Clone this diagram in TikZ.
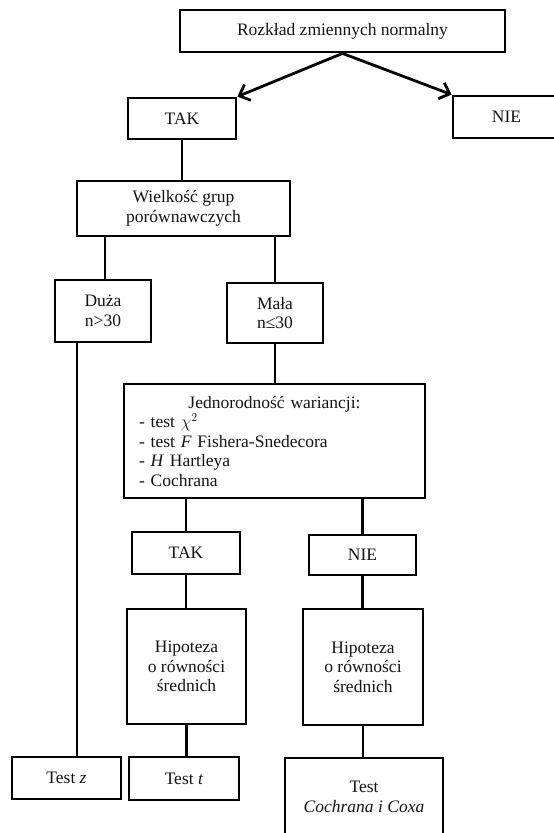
\documentclass[tikz,border=0pt]{standalone}
\usepackage{fontspec}
\setmainfont{Liberation Serif}
\usepackage{tikz}
\usetikzlibrary{arrows.meta}
\definecolor{ll}{RGB}{0, 0, 0}
\definecolor{tt}{RGB}{20, 20, 20}

\begin{document}
\begin{tikzpicture}[x=1pt, y=1pt,
  box/.style={draw=ll, line width=2.8pt, align=center, inner sep=0pt, text=tt,
    font=\fontsize{17.5}{19.5}\selectfont},
  link/.style={line width=2.8pt, color=ll},
  pick/.style={line width=2.8pt, color=ll, -{Straight Barb[length=9pt, width=17pt]}}]
\useasboundingbox (0pt, 0pt) rectangle (554pt, -833pt);
\node (1) [box, minimum width=325pt, minimum height=42pt] at (342.5pt, -31.0pt) {Rozkład zmiennych normalny};
\node (2) [box, minimum width=108pt, minimum height=41pt] at (182.0pt, -118.5pt) {TAK};
\node (3) [box, minimum width=107pt, minimum height=42pt] at (506.5pt, -117.0pt) {NIE};
\node (4) [box, minimum width=213pt, minimum height=55pt] at (183.5pt, -208.5pt) {Wielkość grup\\porównawczych};
\node (5) [box, minimum width=96pt, minimum height=62pt] at (103.0pt, -311.0pt) {Duża\\n>30};
\node (6) [box, minimum width=96pt, minimum height=60pt] at (275.0pt, -313.0pt) {Mała\\n≤30};
\node (7) [box, minimum width=301pt, minimum height=114pt, text width=271pt, align=left] at (274.5pt, -441.0pt)
  {\makebox[271pt]{Jednorodność wariancji:}\\- test $\chi^2$\\- test \textit{F} Fishera-Snedecora\\- \textit{H} Hartleya\\- Cochrana};
\node (8) [box, minimum width=108pt, minimum height=42pt] at (186.0pt, -553.0pt) {TAK};
\node (9) [box, minimum width=107pt, minimum height=40pt] at (362.5pt, -555.0pt) {NIE};
\node (10) [box, minimum width=119pt, minimum height=115pt] at (186.5pt, -666.5pt) {Hipoteza\\o równości\\średnich};
\node (11) [box, minimum width=120pt, minimum height=116pt] at (363.0pt, -667.0pt) {Hipoteza\\o równości\\średnich};
\node (12) [box, minimum width=109pt, minimum height=42pt] at (66.5pt, -778.0pt) {Test \textit{z}};
\node (13) [box, minimum width=110pt, minimum height=43pt] at (184.0pt, -778.5pt) {Test \textit{t}};
\node (14) [box, minimum width=158pt, minimum height=78pt] at (364.0pt, -797.0pt) {Test\\\textit{Cochrana i Coxa}};
\draw [pick] (1.south) to (2.north east);
\draw [pick] (1.south) to (3.north west);
\draw [link] (2.south) to (2.south |- 4.north);
\draw [link] ([xshift=2pt]5.north |- 4.south) to ([xshift=2pt]5.north);
\draw [link] (6.north |- 4.south) to (6.north);
\draw [link] ([xshift=-26pt]5.south) to ([xshift=-26pt]5.south |- 12.north);
\draw [link] (6.south) to (6.south |- 7.north);
\draw [link] (8.north |- 7.south) to (8.north);
\draw [link] (9.north |- 7.south) to (9.north);
\draw [link] (8.south) to (8.south |- 10.north);
\draw [link] (9.south) to (9.south |- 11.north);
\draw [link] (10.south) to (10.south |- 13.north);
\draw [link] (11.south) to (11.south |- 14.north);
\end{tikzpicture}
\end{document}
